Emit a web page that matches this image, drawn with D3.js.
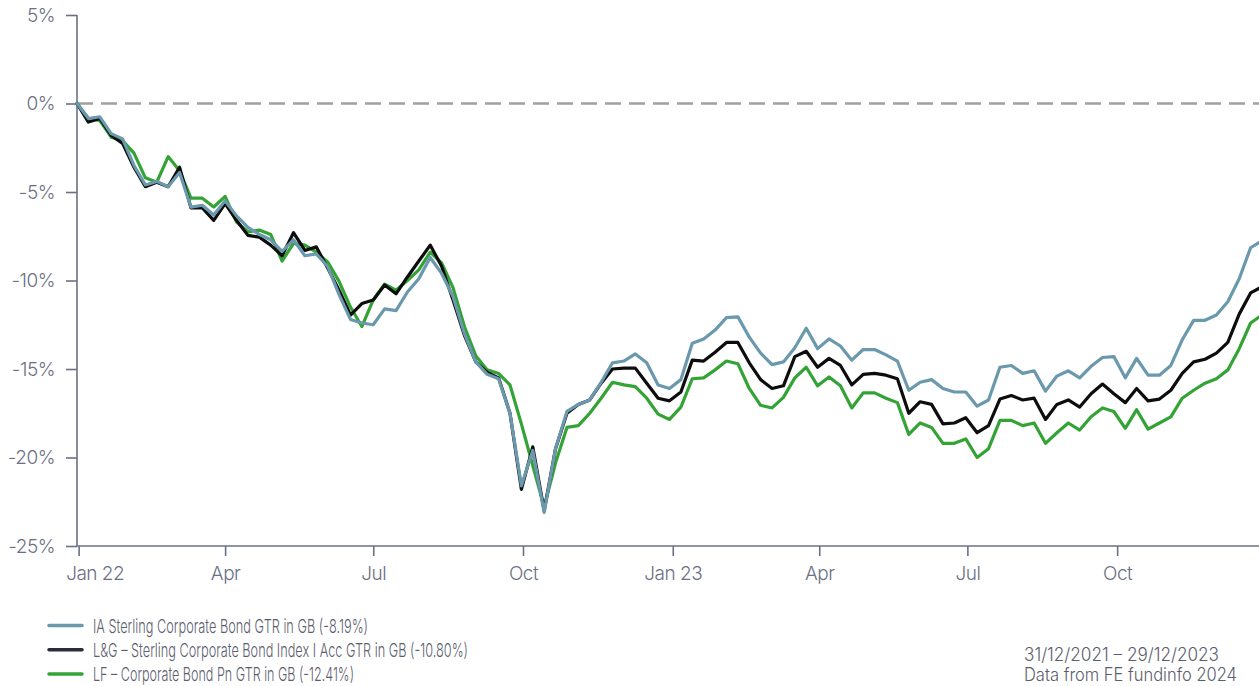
<!DOCTYPE html>
<html>
<head>
<meta charset="utf-8">
<script src="https://cdn.jsdelivr.net/npm/d3@7"></script>
<style>
  html, body { margin: 0; padding: 0; background: #ffffff; }
  svg { display: block; font-family: Inter, "Noto Sans", "DejaVu Sans", sans-serif; }
</style>
</head>
<body>
<svg id="chart" width="1259" height="686"></svg>
<script>
// ---- Data (weekly, from 31/12/2021 to 29/12/2023), cumulative total return in % ----
const startDate = "2021-12-31";
const endDate = "2023-12-29";

const seriesNames = [
  "IA Sterling Corporate Bond GTR in GB (-8.19%)",
  "L&G \u2013 Sterling Corporate Bond Index I Acc GTR in GB (-10.80%)",
  "LF \u2013 Corporate Bond Pn GTR in GB (-12.41%)"
];

const iaSterling = [
  0, -0.85, -0.75, -1.7, -2.0, -3.5, -4.6, -4.4, -4.7, -3.9,
  -5.85, -5.75, -6.3, -5.5, -6.35, -7.0, -7.4, -7.7, -8.35, -7.7,
  -8.6, -8.5, -9.2, -10.8, -12.2, -12.4, -12.5, -11.6, -11.7, -10.65,
  -9.9, -8.7, -9.6, -10.9, -13.0, -14.6, -15.3, -15.55, -17.5, -21.6,
  -19.6, -23.1, -19.5, -17.4, -17.0, -16.75, -15.75, -14.65, -14.55, -14.15,
  -14.65, -15.9, -16.1, -15.6, -13.55, -13.3, -12.8, -12.1, -12.05, -13.2,
  -14.1, -14.75, -14.6, -13.8, -12.7, -13.85, -13.3, -13.7, -14.5, -13.9,
  -13.9, -14.2, -14.55, -16.2, -15.75, -15.6, -16.1, -16.3, -16.3, -17.1,
  -16.75, -14.9, -14.8, -15.25, -15.1, -16.25, -15.4, -15.1, -15.5, -14.85,
  -14.35, -14.3, -15.5, -14.4, -15.35, -15.35, -14.8, -13.35, -12.25, -12.25,
  -11.95, -11.2, -9.9, -8.15, -7.75
];

const lgIndex = [
  0, -1.05, -0.85, -1.8, -2.25, -3.6, -4.7, -4.45, -4.7, -3.6,
  -5.9, -5.9, -6.6, -5.65, -6.6, -7.45, -7.55, -8.0, -8.6, -7.3,
  -8.3, -8.1, -9.3, -10.55, -11.95, -11.3, -11.1, -10.25, -10.75, -9.8,
  -8.9, -8.0, -9.2, -11.1, -13.1, -14.6, -15.2, -15.5, -17.5, -21.8,
  -19.4, -23.0, -19.5, -17.5, -17.0, -16.75, -15.8, -15.0, -14.95, -14.95,
  -15.8, -16.65, -16.8, -16.3, -14.5, -14.55, -14.05, -13.5, -13.5, -14.65,
  -15.6, -16.1, -15.95, -14.3, -14.0, -14.9, -14.4, -14.8, -15.9, -15.3,
  -15.25, -15.35, -15.55, -17.5, -16.85, -17.0, -18.1, -18.05, -17.75, -18.6,
  -18.2, -16.7, -16.5, -16.75, -16.65, -17.85, -17.0, -16.75, -17.15, -16.4,
  -15.85, -16.4, -16.9, -16.1, -16.8, -16.7, -16.2, -15.25, -14.6, -14.45,
  -14.1, -13.5, -11.9, -10.7, -10.35
];

const lfCorporate = [
  0, -0.85, -0.95, -1.9, -2.1, -2.8, -4.2, -4.45, -3.0, -3.8,
  -5.35, -5.35, -5.85, -5.25, -6.7, -7.25, -7.15, -7.4, -8.9, -7.9,
  -8.0, -8.4, -8.95, -10.05, -11.5, -12.6, -11.1, -10.2, -10.55, -10.0,
  -9.4, -8.4, -9.0, -10.4, -12.6, -14.25, -15.05, -15.25, -15.9, -18.1,
  -20.45, -22.8, -20.3, -18.3, -18.2, -17.5, -16.65, -15.75, -15.9, -16.0,
  -16.65, -17.55, -17.85, -17.15, -15.55, -15.5, -15.05, -14.55, -14.7, -16.1,
  -17.05, -17.2, -16.6, -15.5, -14.9, -15.95, -15.45, -15.95, -17.2, -16.35,
  -16.35, -16.65, -16.9, -18.7, -18.05, -18.3, -19.2, -19.2, -18.95, -20.0,
  -19.5, -17.9, -17.9, -18.2, -18.05, -19.2, -18.6, -18.05, -18.45, -17.7,
  -17.2, -17.4, -18.35, -17.3, -18.4, -18.05, -17.7, -16.65, -16.2, -15.8,
  -15.55, -15.05, -13.85, -12.4, -11.95
];

const seriesColors = ["#6a98ad", "#0d0d0d", "#33a336"];
const legendColors = ["#6a98ad", "#2a2d36", "#33a336"];

const yTickValues = [5, 0, -5, -10, -15, -20, -25];
const xTickDates = ["2022-01-01", "2022-04-01", "2022-07-01", "2022-10-01",
                    "2023-01-01", "2023-04-01", "2023-07-01", "2023-10-01"];
const xTickLabels = ["Jan 22", "Apr", "Jul", "Oct", "Jan 23", "Apr", "Jul", "Oct"];

const footerLines = ["31/12/2021 \u2013 29/12/2023", "Data from FE fundinfo 2024"];

// ---- Build ----
const parse = d3.utcParse("%Y-%m-%d");
const t0 = parse(startDate);
const t1 = parse(endDate);
const dates = d3.range(iaSterling.length).map(i => d3.utcDay.offset(t0, 7 * i));

const series = [iaSterling, lgIndex, lfCorporate].map((vals, k) => ({
  name: seriesNames[k],
  color: seriesColors[k],
  legendColor: legendColors[k],
  values: vals.map((v, i) => ({ date: dates[i], value: v }))
}));

const svg = d3.select("#chart");
const axisColor = "#6c7084";
const textColor = "#6c7084";
const fontFam = "Inter, 'Noto Sans', sans-serif";

const x = d3.scaleUtc().domain([t0, t1]).range([77, 1262]);
const y = d3.scaleLinear().domain([-25, 5]).range([546, 15]);

// Y axis
const yAxis = d3.axisLeft(y)
  .tickValues(yTickValues)
  .tickFormat(d => d + "%")
  .tickSize(11)
  .tickPadding(11);
const gy = svg.append("g").attr("transform", "translate(77,0)").call(yAxis);
gy.select(".domain").attr("stroke", axisColor).attr("stroke-width", 1.6).attr("d", "M0,15V546");
gy.selectAll(".tick line").attr("stroke", axisColor).attr("stroke-width", 1.6);
gy.selectAll(".tick text")
  .attr("fill", textColor)
  .style("font-size", "19px")
  .style("font-weight", 300)
  .style("letter-spacing", "-0.5px")
  .style("font-family", fontFam);

// X axis
const xAxis = d3.axisBottom(x)
  .tickValues(xTickDates.map(parse))
  .tickFormat((d, i) => xTickLabels[i])
  .tickSize(10)
  .tickPadding(11);
const gx = svg.append("g").attr("transform", "translate(0,546)").call(xAxis);
gx.select(".domain").attr("stroke", axisColor).attr("stroke-width", 1.6).attr("d", "M77,0H1259");
gx.selectAll(".tick line").attr("stroke", axisColor).attr("stroke-width", 1.6);
gx.selectAll(".tick text")
  .attr("fill", textColor)
  .style("font-size", "19px")
  .style("font-weight", 300)
  .style("letter-spacing", "-0.5px")
  .style("font-family", fontFam);
// first label sits to the right of its tick, as in the original
gx.selectAll(".tick text").filter((d, i) => i === 0)
  .attr("text-anchor", "start")
  .attr("x", -13);

// Zero dashed line
svg.append("line")
  .attr("x1", x(t0)).attr("x2", 1259)
  .attr("y1", y(0)).attr("y2", y(0))
  .attr("stroke", "#a0a0a0")
  .attr("stroke-width", 2.5)
  .attr("stroke-dasharray", "16,8");

// Lines (green bottom, black, blue on top)
const line = d3.line().x(d => x(d.date)).y(d => y(d.value));
const drawOrder = [2, 1, 0];
svg.append("g").selectAll("path")
  .data(drawOrder.map(k => series[k]))
  .join("path")
  .attr("d", d => line(d.values))
  .attr("fill", "none")
  .attr("stroke", d => d.color)
  .attr("stroke-width", 3.2)
  .attr("stroke-linejoin", "round")
  .attr("stroke-linecap", "round");

// Legend
const legendWidths = [275, 375, 261];
const legend = svg.append("g");
series.forEach((s, k) => {
  const ly = 625.5 + k * 24.2;
  legend.append("line")
    .attr("x1", 49).attr("x2", 82)
    .attr("y1", ly).attr("y2", ly)
    .attr("stroke", s.legendColor)
    .attr("stroke-width", 3.5)
    .attr("stroke-linecap", "round");
  legend.append("text")
    .attr("x", 93).attr("y", ly + 7)
    .attr("fill", "#5b5e6e")
    .attr("textLength", legendWidths[k])
    .attr("lengthAdjust", "spacingAndGlyphs")
    .style("font-size", "19px")
    .style("font-weight", 300)
    .style("font-family", fontFam)
    .text(s.name);
});

// Footer
const footerWidths = [195, 213];
footerLines.forEach((t, i) => {
  svg.append("text")
    .attr("x", 1024).attr("y", 661 + i * 20)
    .attr("fill", "#5b5e6e")
    .attr("textLength", footerWidths[i])
    .attr("lengthAdjust", "spacingAndGlyphs")
    .style("font-size", "18px")
    .style("font-weight", 300)
    .style("font-family", fontFam)
    .text(t);
});
</script>
</body>
</html>
